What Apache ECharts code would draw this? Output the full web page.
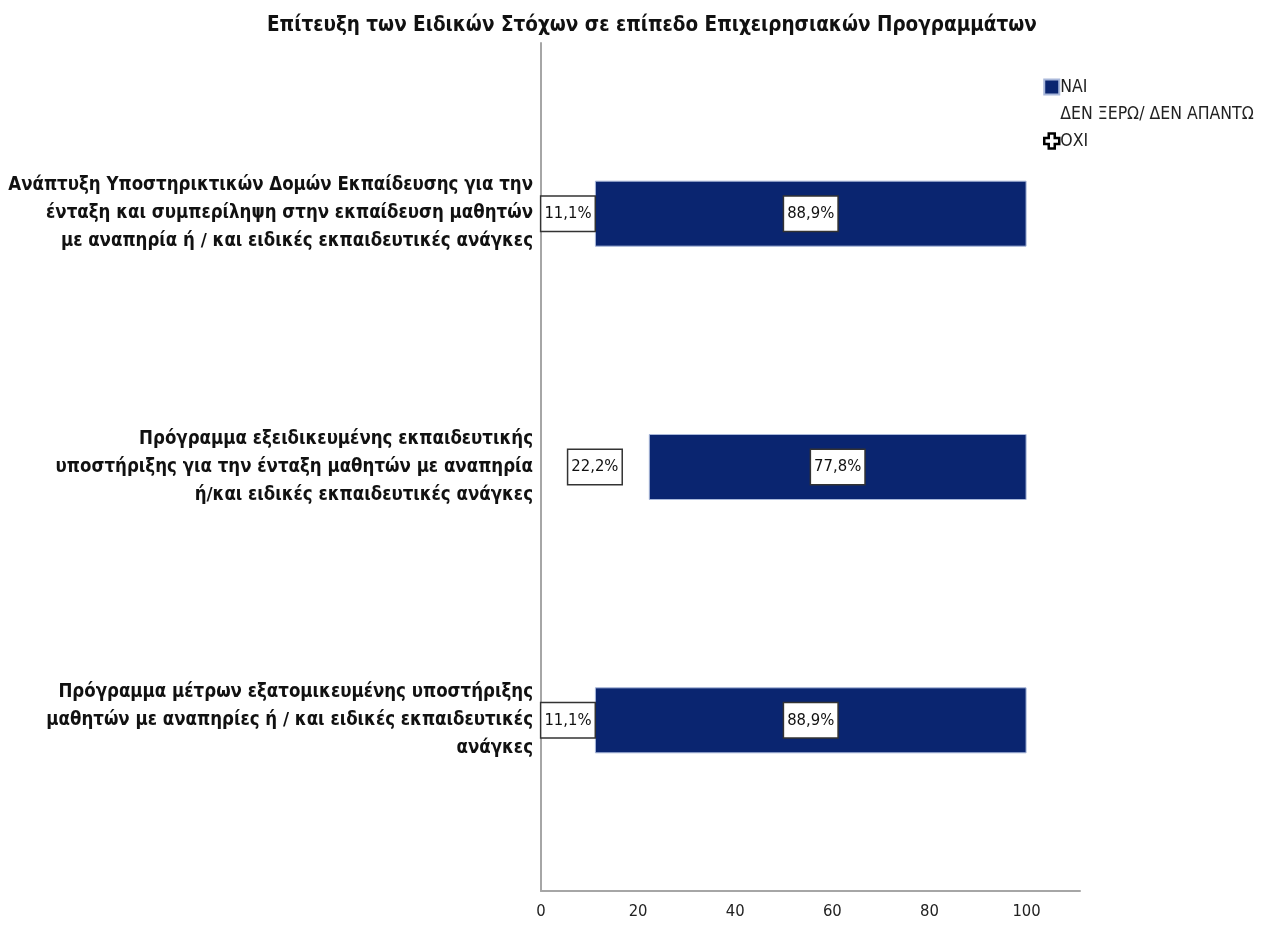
<!DOCTYPE html>
<html>
<head>
<meta charset="utf-8">
<script src="https://cdn.jsdelivr.net/npm/echarts@6/dist/echarts.min.js"></script>
<style>
  html, body { margin: 0; padding: 0; background: #fff; }
  #chart { width: 1263px; height: 925px; }
</style>
</head>
<body>
<div id="chart"></div>
<script>
// Programme names (wrapped as drawn on the category axis)
const categories = [
  'Ανάπτυξη Υποστηρικτικών Δομών Εκπαίδευσης για την\nένταξη και συμπερίληψη στην εκπαίδευση μαθητών\nμε αναπηρία ή / και ειδικές εκπαιδευτικές ανάγκες',
  'Πρόγραμμα εξειδικευμένης εκπαιδευτικής\nυποστήριξης για την ένταξη μαθητών με αναπηρία\nή/και ειδικές εκπαιδευτικές ανάγκες',
  'Πρόγραμμα μέτρων εξατομικευμένης υποστήριξης\nμαθητών με αναπηρίες ή / και ειδικές εκπαιδευτικές\nανάγκες'
];

// Percentages per answer
const oxi = [11.1, 22.2, 11.1];
const denXero = [0, 0, 0];
const nai = [88.9, 77.8, 88.9];

const xTicks = [0, 20, 40, 60, 80, 100];

const narrow = '"Liberation Sans Narrow", "DejaVu Sans Condensed", Arial, sans-serif';
const axisGrey = '#a6a6a6';

function pct(v) {
  return v.toFixed(1).replace('.', ',') + '%';
}

const boxLabel = {
  show: true,
  position: 'inside',
  color: '#111',
  fontFamily: narrow,
  fontSize: 16.5,
  backgroundColor: '#fff',
  borderColor: '#333',
  borderWidth: 1.5,
  padding: [9, 3, 8, 3],
  formatter: p => pct(p.value)
};

const chart = echarts.init(document.getElementById('chart'), null, { renderer: 'canvas' });

chart.setOption({
  animation: false,
  backgroundColor: '#fff',
  title: {
    text: 'Επίτευξη των Ειδικών Στόχων σε επίπεδο Επιχειρησιακών Προγραμμάτων',
    left: 262,
    top: 10,
    textStyle: {
      fontFamily: narrow,
      fontWeight: 'bold',
      fontSize: 20.5,
      color: '#111'
    }
  },
  legend: {
    orient: 'vertical',
    left: 1038,
    top: 73,
    itemWidth: 15,
    itemHeight: 15,
    itemGap: 9,
    textStyle: { fontFamily: narrow, fontSize: 17.5, color: '#222', padding: [0, 0, 0, -4] },
    data: [
      { name: 'ΝΑΙ', icon: 'rect' },
      { name: 'ΔΕΝ ΞΕΡΩ/ ΔΕΝ ΑΠΑΝΤΩ', icon: 'rect', itemStyle: { opacity: 0 } },
      {
        name: 'ΟΧΙ',
        icon: 'path://M3,0 H7 V3 H10 V7 H7 V10 H3 V7 H0 V3 H3 Z',
        itemStyle: { color: '#fff', borderColor: '#000', borderWidth: 2.5 }
      }
    ]
  },
  grid: [
    // frame carrying the visible axes
    { left: 541, right: 183, top: 43, bottom: 34, outerBoundsMode: 'none' },
    // band area holding the bars
    { left: 541, right: 183, top: 87, height: 760, outerBoundsMode: 'none' }
  ],
  xAxis: [
    {
      gridIndex: 0,
      type: 'value',
      min: 0,
      max: 111,
      interval: 20,
      axisLine: { show: true, lineStyle: { color: axisGrey, width: 2 } },
      axisTick: { show: false },
      splitLine: { show: false },
      axisLabel: {
        margin: 12,
        fontFamily: narrow,
        fontSize: 16.5,
        color: '#222',
        formatter: v => (xTicks.indexOf(v) >= 0 ? String(v) : '')
      }
    },
    {
      gridIndex: 1,
      type: 'value',
      min: 0,
      max: 111,
      show: false
    }
  ],
  yAxis: [
    {
      gridIndex: 0,
      type: 'value',
      min: 0,
      max: 1,
      axisLine: { show: true, lineStyle: { color: axisGrey, width: 2 } },
      axisTick: { show: false },
      axisLabel: { show: false },
      splitLine: { show: false }
    },
    {
      gridIndex: 1,
      type: 'category',
      inverse: true,
      data: categories,
      axisLine: { show: false },
      axisTick: { show: false },
      axisLabel: {
        margin: 8,
        align: 'right',
        fontFamily: narrow,
        fontWeight: 'bold',
        fontSize: 18.5,
        lineHeight: 28,
        color: '#111'
      }
    }
  ],
  series: [
    {
      name: 'ΟΧΙ',
      type: 'bar',
      xAxisIndex: 1,
      yAxisIndex: 1,
      stack: 'answers',
      barWidth: 66,
      data: oxi,
      itemStyle: { color: 'rgba(255,255,255,0)' },
      label: boxLabel
    },
    {
      name: 'ΔΕΝ ΞΕΡΩ/ ΔΕΝ ΑΠΑΝΤΩ',
      type: 'bar',
      xAxisIndex: 1,
      yAxisIndex: 1,
      stack: 'answers',
      barWidth: 66,
      data: denXero,
      itemStyle: { color: 'rgba(0,0,0,0)', borderWidth: 0 },
      label: { show: false }
    },
    {
      name: 'ΝΑΙ',
      type: 'bar',
      xAxisIndex: 1,
      yAxisIndex: 1,
      stack: 'answers',
      barWidth: 66,
      data: nai,
      itemStyle: { color: '#0a2570', borderColor: '#a9b8da', borderWidth: 1 },
      label: boxLabel
    }
  ]
});
</script>
</body>
</html>
